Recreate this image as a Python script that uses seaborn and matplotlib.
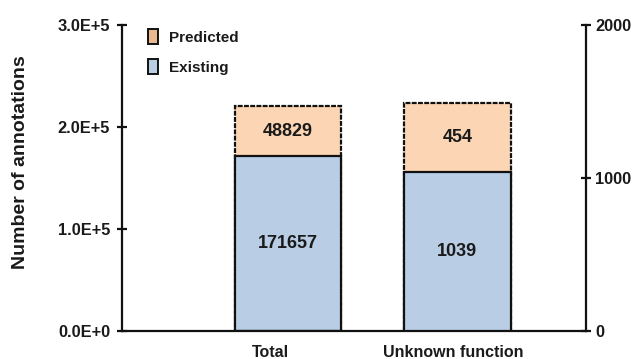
import matplotlib
matplotlib.use("Agg")
import matplotlib.pyplot as plt
from matplotlib.patches import Patch
from matplotlib.ticker import FixedLocator
import pandas as pd
import seaborn as sns

# Annotation counts per category
categories = ["Total", "Unknown function"]
existing = [171657, 1039]
predicted = [48829, 454]
left_ticks = [0, 100000, 200000, 300000]
left_tick_labels = ["0.0E+0", "1.0E+5", "2.0E+5", "3.0E+5"]
right_ticks = [0, 1000, 2000]
right_tick_labels = ["0", "1000", "2000"]

sns.set_style("white")
plt.rcParams["font.family"] = ["Liberation Sans", "DejaVu Sans"]
plt.rcParams["font.weight"] = "bold"

TEXT = "#1a1a1a"
PRED_FILL = "#fcd5b5"
EXIST_FILL = "#b9cde5"
PRED_LEGEND = "#e8b98f"
EXIST_LEGEND = "#b9cde5"
LW = 1.6

df = pd.DataFrame({
    "category": categories,
    "existing": existing,
    "predicted": predicted,
})
df["total"] = df["existing"] + df["predicted"]

fig = plt.figure(figsize=(6.32, 3.59), dpi=100)
ax = fig.add_axes([0.193, 0.078, 0.734, 0.852])
ax2 = ax.twinx()

bar_w = 0.63
dash = (0, (2.2, 0.6))

# Total on the left axis, unknown-function on the right axis
for axis, row in ((ax, df.iloc[[0]]), (ax2, df.iloc[[1]])):
    sns.barplot(data=row, x="category", y="total", order=categories, ax=axis,
                color=PRED_FILL, saturation=1, width=bar_w, errorbar=None,
                edgecolor="#111111", linewidth=LW, linestyle=dash)
    sns.barplot(data=row, x="category", y="existing", order=categories, ax=axis,
                color=EXIST_FILL, saturation=1, width=bar_w, errorbar=None,
                edgecolor="#111111", linewidth=LW)
    for i, r in row.iterrows():
        axis.text(i, r["existing"] / 2, f"{r['existing']}", ha="center", va="center",
                  fontsize=13, fontweight="bold", color=TEXT)
        axis.text(i, r["existing"] + r["predicted"] / 2, f"{r['predicted']}",
                  ha="center", va="center", fontsize=13, fontweight="bold", color=TEXT)

ax.set_ylim(0, 300000)
ax2.set_ylim(0, 2000)
ax.set_xlim(-0.979, 1.758)

ax.yaxis.set_major_locator(FixedLocator(left_ticks))
ax.set_yticklabels(left_tick_labels)
ax2.yaxis.set_major_locator(FixedLocator(right_ticks))
ax2.set_yticklabels(right_tick_labels)

# Category labels with category-boundary tick marks
label_pos = [-0.106, 0.973]
ax.set_xticks(label_pos)
ax.set_xticklabels(categories)
ax.set_xticks([0.236, 0.619], minor=True)
ax.tick_params(axis="x", which="major", length=0, pad=10, labelsize=11.5, labelcolor=TEXT)
ax.tick_params(axis="x", which="minor", length=5, width=LW, direction="out", color="#111111")
ax.tick_params(axis="y", length=7, width=LW, direction="inout", pad=5,
               labelsize=11.8, labelcolor=TEXT, color="#111111")
ax2.tick_params(axis="y", length=7, width=LW, direction="inout", pad=3,
                labelsize=11.8, labelcolor=TEXT, color="#111111")
for t in ax.get_xticklabels() + ax.get_yticklabels() + ax2.get_yticklabels():
    t.set_fontweight("bold")

ax.set_xlabel("")
ax.set_ylabel("")
ax2.set_ylabel("")

for a in (ax, ax2):
    a.spines["top"].set_visible(False)
    for s in ("left", "right", "bottom"):
        a.spines[s].set_linewidth(LW)
        a.spines[s].set_color("#111111")
ax.spines["right"].set_visible(False)
ax2.spines["left"].set_visible(False)
ax2.spines["bottom"].set_visible(False)

fig.text(21 / 632, 1 - 162 / 359, "Number of annotations", rotation=90,
         ha="center", va="center", fontsize=14, fontweight="bold", color=TEXT)

handles = [Patch(facecolor=PRED_LEGEND, edgecolor="#111111", linewidth=1.4),
           Patch(facecolor=EXIST_LEGEND, edgecolor="#111111", linewidth=1.4)]
leg = fig.legend(handles, ["Predicted", "Existing"], loc="upper left",
                 bbox_to_anchor=(0.2215, 0.94), frameon=False, borderpad=0,
                 handlelength=0.7, handleheight=1.1, handletextpad=0.7,
                 labelspacing=0.95, prop={"size": 11, "weight": "bold"})
for t in leg.get_texts():
    t.set_color(TEXT)

fig.savefig("out.png", dpi=100)
